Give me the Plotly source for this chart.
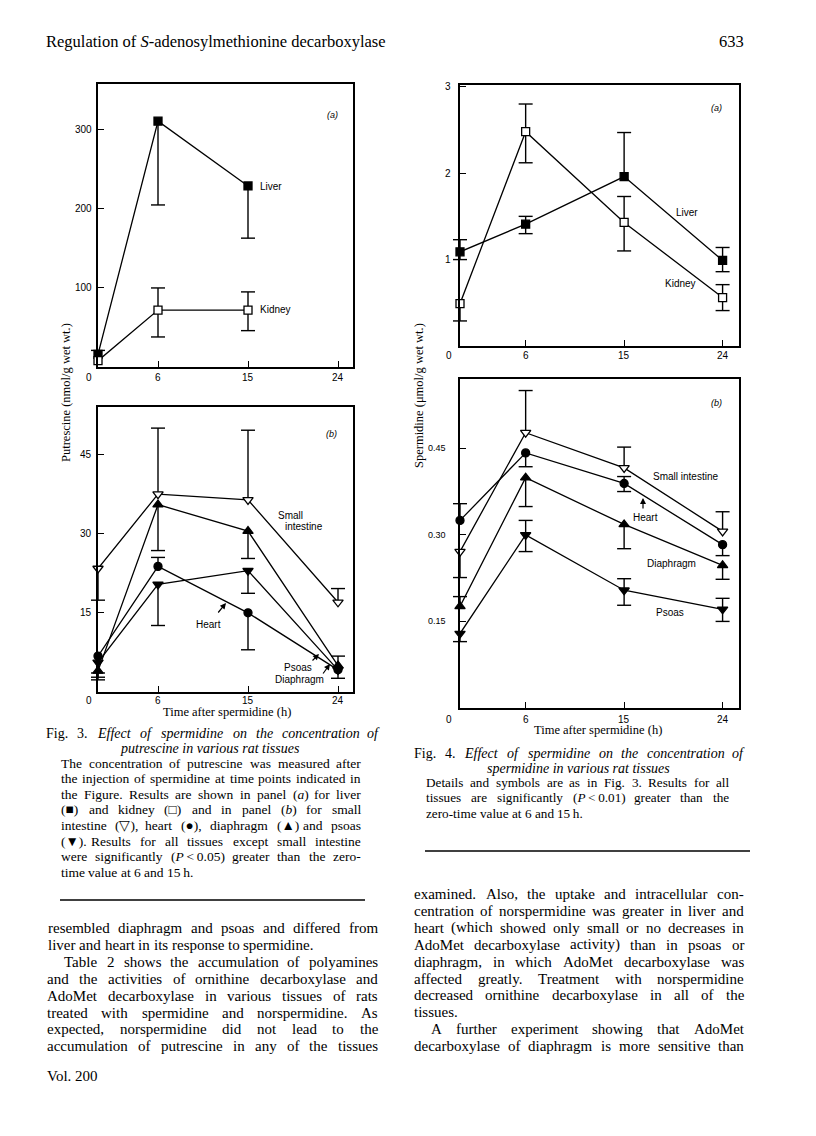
import re
import plotly.graph_objects as go

# page is rendered with an 8px body margin; figure sized to fit inside it
OFF = 8
W, H = 800, 1120

# ---------------- data ----------------
hours = [0, 6, 15, 24]
hours_3a = [0, 6, 15]

# Fig 3(a) putrescine, nmol/g
put_liver = [16, 311, 229]
put_liver_up = [5, 0, 0]
put_liver_dn = [0, 106, 66]
put_kidney = [8, 72, 72]
put_kidney_up = [0, 28, 23]
put_kidney_dn = [0, 34, 26]

# Fig 3(b)
put_si = [23.4, 37.5, 36.4, 17.0]
put_si_up = [0, 12.5, 13.2, 2.6]
put_si_dn = [6.0, 0, 0, 0]
put_heart = [6.8, 23.8, 15.0, 4.2]
put_heart_up = [0, 1.7, 0, 0]
put_heart_dn = [3.2, 0, 7.0, 0]
put_dia = [4.0, 35.5, 30.5, 5.0]
put_dia_up = [0, 0, 0, 1.8]
put_dia_dn = [1.7, 8.7, 5.2, 0]
put_psoas = [5.6, 20.4, 23.0, 4.2]
put_psoas_up = [0, 0, 0, 0]
put_psoas_dn = [2.8, 7.8, 4.3, 1.6]

# Fig 4(a) spermidine, umol/g
spd_liver = [1.09, 1.41, 1.96, 0.99]
spd_liver_up = [0.14, 0.09, 0.51, 0.15]
spd_liver_dn = [0.09, 0.11, 0, 0.13]
spd_kidney = [0.49, 2.48, 1.43, 0.56]
spd_kidney_up = [0, 0.32, 0.30, 0.15]
spd_kidney_dn = [0.20, 0.36, 0.33, 0.15]

# Fig 4(b)
spd_si = [0.271, 0.477, 0.416, 0.306]
spd_si_up = [0, 0.073, 0.036, 0.034]
spd_si_dn = [0.045, 0, 0, 0]
spd_heart = [0.325, 0.442, 0.389, 0.283]
spd_heart_up = [0.029, 0, 0.012, 0]
spd_heart_dn = [0, 0.024, 0.014, 0.019]
spd_dia = [0.176, 0.399, 0.318, 0.247]
spd_dia_up = [0.017, 0, 0, 0]
spd_dia_dn = [0, 0.050, 0.042, 0.024]
spd_psoas = [0.129, 0.300, 0.204, 0.171]
spd_psoas_up = [0, 0.025, 0.020, 0.019]
spd_psoas_dn = [0.014, 0.029, 0.026, 0.021]

x_ticks = [6, 15, 24]
x_ticktext = ["6", "15", "24"]
y_ticks_3a = [100, 200, 300]
y_ticktext_3a = ["100", "200", "300"]
y_ticks_3b = [15, 30, 45]
y_ticktext_3b = ["15", "30", "45"]
y_ticks_4a = [1, 2, 3]
y_ticktext_4a = ["1", "2", "3"]
y_ticks_4b = [0.15, 0.30, 0.45]
y_ticktext_4b = ["0.15", "0.30", "0.45"]

# ---------------- helpers ----------------
def px(x):
    return (x - OFF) / W

def py(y):
    return 1 - (y - OFF) / H

SANS = "Liberation Sans, Arial, sans-serif"
SERIF = "Liberation Serif, Times New Roman, serif"

fig = go.Figure()


def add_series(xs, ys, up, dn, sym, fill, xa, ya, size=8):
    cx, cy = [], []
    for x, y, u, d in zip(xs, ys, up, dn):
        if u > 0:
            cx.append(x); cy.append(y + u)
        if d > 0:
            cx.append(x); cy.append(y - d)
    if cx:
        fig.add_trace(go.Scatter(
            x=cx, y=cy, mode="markers", xaxis=xa, yaxis=ya,
            marker=dict(symbol="line-ew", size=10, line=dict(color="black", width=1.4)),
            cliponaxis=False, showlegend=False, hoverinfo="skip"))
    fig.add_trace(go.Scatter(
        x=xs, y=ys, mode="lines+markers", xaxis=xa, yaxis=ya,
        line=dict(color="black", width=1.3),
        marker=dict(symbol=sym, size=size, color=fill, line=dict(color="black", width=1.3)),
        error_y=dict(type="data", symmetric=False, array=up, arrayminus=dn,
                     color="black", thickness=1.4, width=0),
        cliponaxis=False, showlegend=False))


add_series(hours_3a, put_liver, put_liver_up, put_liver_dn, "square", "black", "x", "y")
add_series(hours_3a, put_kidney, put_kidney_up, put_kidney_dn, "square", "white", "x", "y")

add_series(hours, put_si, put_si_up, put_si_dn, "triangle-down", "white", "x2", "y2", 9)
add_series(hours, put_dia, put_dia_up, put_dia_dn, "triangle-up", "black", "x2", "y2", 9)
add_series(hours, put_psoas, put_psoas_up, put_psoas_dn, "triangle-down", "black", "x2", "y2", 9)
add_series(hours, put_heart, put_heart_up, put_heart_dn, "circle", "black", "x2", "y2")

add_series(hours, spd_liver, spd_liver_up, spd_liver_dn, "square", "black", "x3", "y3")
add_series(hours, spd_kidney, spd_kidney_up, spd_kidney_dn, "square", "white", "x3", "y3")

add_series(hours, spd_si, spd_si_up, spd_si_dn, "triangle-down", "white", "x4", "y4", 9)
add_series(hours, spd_heart, spd_heart_up, spd_heart_dn, "circle", "black", "x4", "y4")
add_series(hours, spd_dia, spd_dia_up, spd_dia_dn, "triangle-up", "black", "x4", "y4", 9)
add_series(hours, spd_psoas, spd_psoas_up, spd_psoas_dn, "triangle-down", "black", "x4", "y4", 9)


def xax(x0, x1, anchor):
    return dict(domain=[px(x0), px(x1)], range=[0, 25.5], anchor=anchor,
                tickmode="array", tickvals=x_ticks, ticks="inside", ticklen=6,
                tickwidth=1.3, tickcolor="black", showline=True, mirror=True,
                linecolor="black", linewidth=1.5, showgrid=False, zeroline=False,
                showticklabels=False, fixedrange=True)


def yax(y0, y1, anchor, rng, tv):
    return dict(domain=[py(y1), py(y0)], range=rng, anchor=anchor,
                tickmode="array", tickvals=tv, ticks="inside", ticklen=6,
                tickwidth=1.3, tickcolor="black", showline=True, mirror=True,
                linecolor="black", linewidth=1.5, showgrid=False, zeroline=False,
                showticklabels=False, fixedrange=True)


fig.update_layout(
    width=W, height=H, margin=dict(l=0, r=0, t=0, b=0),
    paper_bgcolor="white", plot_bgcolor="white", showlegend=False,
    xaxis=xax(98, 353, "y"), yaxis=yax(84, 367, "x", [0, 358], y_ticks_3a),
    xaxis2=xax(98, 353, "y2"), yaxis2=yax(407, 692, "x2", [0, 54], y_ticks_3b),
    xaxis3=xax(460, 739, "y3"), yaxis3=yax(85, 346, "x3", [0, 3.02], y_ticks_4a),
    xaxis4=xax(460, 739, "y4"), yaxis4=yax(379, 708, "x4", [0, 0.57], y_ticks_4b),
)

ann = []


def txt(x, y, s, size=10, family=SANS, xanchor="left", angle=0):
    ann.append(dict(x=px(x), y=py(y), xref="paper", yref="paper", text=s,
                    showarrow=False, xanchor=xanchor, yanchor="middle", borderpad=0,
                    textangle=angle, font=dict(family=family, size=size, color="black")))


def arrow(x0, y0, x1, y1):
    ann.append(dict(x=px(x1), y=py(y1), xref="paper", yref="paper", text="",
                    showarrow=True, ax=x0 - x1, ay=y0 - y1, arrowhead=2, arrowsize=1,
                    arrowwidth=1.2, arrowcolor="black"))


def xlabels(xref, ypix, size=10):
    for v, t in zip(x_ticks, x_ticktext):
        ann.append(dict(x=v, y=py(ypix), xref=xref, yref="paper", text=t,
                        showarrow=False, xanchor="center", yanchor="middle",
                        borderpad=0, font=dict(family=SANS, size=size, color="black")))


def ylabels(yref, xpix, vals, texts, size=10):
    for v, t in zip(vals, texts):
        ann.append(dict(x=px(xpix), y=v, xref="paper", yref=yref, text=t,
                        showarrow=False, xanchor="right", yanchor="middle",
                        borderpad=0, font=dict(family=SANS, size=size, color="black")))


xlabels("x", 377)
xlabels("x2", 700)
xlabels("x3", 355)
xlabels("x4", 719)
ylabels("y", 93, y_ticks_3a, y_ticktext_3a)
ylabels("y2", 93, y_ticks_3b, y_ticktext_3b)
ylabels("y3", 452, y_ticks_4a, y_ticktext_4a)
ylabels("y4", 447, y_ticks_4b, y_ticktext_4b, 9)

# Times-compatible advance widths (per 1000 em)
TW = {" ": 250, "!": 333, "(": 333, ")": 333, ",": 250, "-": 333, ".": 250, "/": 278,
      ":": 278, ";": 278, "<": 564, ">": 564, "?": 444, "\u2009": 167,
      "A": 722, "B": 667, "C": 667, "D": 722, "E": 611, "F": 556, "G": 722, "H": 722,
      "I": 333, "J": 389, "K": 722, "L": 611, "M": 889, "N": 722, "O": 722, "P": 556,
      "Q": 722, "R": 667, "S": 556, "T": 611, "U": 722, "V": 722, "W": 944, "X": 722,
      "Y": 722, "Z": 611,
      "a": 444, "b": 500, "c": 444, "d": 500, "e": 444, "f": 333, "g": 500, "h": 500,
      "i": 278, "j": 278, "k": 500, "l": 278, "m": 778, "n": 500, "o": 500, "p": 500,
      "q": 500, "r": 333, "s": 389, "t": 278, "u": 500, "v": 500, "w": 722, "x": 500,
      "y": 500, "z": 444}


def width(s, size):
    plain = re.sub(r"<[^<>]*>", "", s)
    tot = 0
    for ch in plain:
        if ch.isdigit():
            tot += 500
        else:
            tot += TW.get(ch, 650)
    return tot * size / 1000.0


def split_words(s):
    out = []
    ital = False
    for raw in s.split(" "):
        start = ital
        o, c = raw.rfind("<i>"), raw.rfind("</i>")
        if o > c:
            ital = True
        elif c > o:
            ital = False
        w = raw
        if start and not raw.startswith("<i>"):
            w = "<i>" + w
        if ital and not raw.endswith("</i>"):
            w = w + "</i>"
        out.append(w)
    return out


def jline(x0, x1, y, s, size, justify=True):
    words = split_words(s)
    ws = [width(w, size) for w in words]
    if justify and len(words) > 1:
        gap = (x1 - x0 - sum(ws)) / (len(words) - 1)
    else:
        gap = 0.25 * size
    x = x0
    for w, wd in zip(words, ws):
        txt(x, y, w, size, SERIF)
        x += wd + gap


# corner zeros
txt(89, 377, "0", xanchor="center")
txt(89, 700, "0", xanchor="center")
txt(449, 355, "0", xanchor="center")
txt(449, 719, "0", xanchor="center")

# Fig 3 labels
txt(332, 115, "<i>(a)</i>", 9, xanchor="center")
txt(259, 186, "Liver", 10)
txt(259, 310, "Kidney", 10)
txt(331, 434, "<i>(b)</i>", 9, xanchor="center")
txt(277, 515, "Small", 10)
txt(284, 526, "intestine", 10)
txt(209, 624, "Heart", 10, xanchor="center")
txt(298, 667, "Psoas", 10, xanchor="center")
txt(299, 679, "Diaphragm", 10, xanchor="center")
arrow(217, 614, 226, 603)
arrow(311, 662, 319, 654)
arrow(322, 675, 330, 664)

# Fig 4 labels
txt(716, 108, "<i>(a)</i>", 9, xanchor="center")
txt(675, 212, "Liver", 10)
txt(664, 283, "Kidney", 10)
txt(716, 403, "<i>(b)</i>", 9, xanchor="center")
txt(652, 477, "Small intestine", 10)
txt(632, 518, "Heart", 10)
txt(646, 563, "Diaphragm", 10)
txt(655, 612, "Psoas", 10)
arrow(643, 510, 643, 498)

# axis titles
txt(66, 392, "Putrescine (nmol/g wet wt.)", 12.5, SERIF, "center", -90)
txt(227, 712, "Time after spermidine (h)", 12.5, SERIF, "center")
txt(419, 396, "Spermidine (\u03bcmol/g wet wt.)", 12.5, SERIF, "center", -90)
txt(598, 730, "Time after spermidine (h)", 12.5, SERIF, "center")

# page header / footer
txt(45, 41, "Regulation of <i>S</i>-adenosylmethionine decarboxylase", 16.5, SERIF)
txt(731, 41, "633", 16.5, SERIF, "center")
txt(46, 1076, "Vol. 200", 15, SERIF)

# Fig 3 caption
jline(45, 378, 733, "Fig. 3. <i>Effect of spermidine on the concentration of</i>", 14)
txt(210, 748, "<i>putrescine in various rat tissues</i>", 14, SERIF, "center")
cap3 = [
    "The concentration of putrescine was measured after",
    "the injection of spermidine at time points indicated in",
    "the Figure. Results are shown in panel (<i>a</i>) for liver",
    "(\u25a0) and kidney (\u25a1) and in panel (<i>b</i>) for small",
    "intestine (\u25bd), heart (\u25cf), diaphragm (\u25b2) and psoas",
    "(\u25bc). Results for all tissues except small intestine",
    "were significantly (<i>P</i>\u2009<\u20090.05) greater than the zero-",
    "time value at 6 and 15\u2009h.",
]
for i, s in enumerate(cap3):
    jline(60, 360, 763 + i * 15.6, s, 13.5, justify=(i < len(cap3) - 1))

# Fig 4 caption
jline(413, 743, 753, "Fig. 4. <i>Effect of spermidine on the concentration of</i>", 14)
txt(578, 768, "<i>spermidine in various rat tissues</i>", 14, SERIF, "center")
cap4 = [
    "Details and symbols are as in Fig. 3. Results for all",
    "tissues are significantly (<i>P</i>\u2009<\u20090.01) greater than the",
    "zero-time value at 6 and 15\u2009h.",
]
for i, s in enumerate(cap4):
    jline(425, 728, 782 + i * 15.6, s, 13.2, justify=(i < len(cap4) - 1))

# body text, left column
left = [
    (47, "resembled diaphragm and psoas and differed from", True),
    (47, "liver and heart in its response to spermidine.", False),
    (63, "Table 2 shows the accumulation of polyamines", True),
    (46, "and the activities of ornithine decarboxylase and", True),
    (46, "AdoMet decarboxylase in various tissues of rats", True),
    (46, "treated with spermidine and norspermidine. As", True),
    (46, "expected, norspermidine did not lead to the", True),
    (46, "accumulation of putrescine in any of the tissues", True),
]
for i, (x, s, j) in enumerate(left):
    jline(x, 377, 928 + i * 16.9, s, 15, j)

# body text, right column
right = [
    (413, "examined. Also, the uptake and intracellular con-", True),
    (413, "centration of norspermidine was greater in liver and", True),
    (413, "heart (which showed only small or no decreases in", True),
    (413, "AdoMet decarboxylase activity) than in psoas or", True),
    (413, "diaphragm, in which AdoMet decarboxylase was", True),
    (413, "affected greatly. Treatment with norspermidine", True),
    (413, "decreased ornithine decarboxylase in all of the", True),
    (413, "tissues.", False),
    (430, "A further experiment showing that AdoMet", True),
    (413, "decarboxylase of diaphragm is more sensitive than", True),
]
for i, (x, s, j) in enumerate(right):
    jline(x, 743, 894 + i * 16.9, s, 15, j)

fig.update_layout(annotations=ann)

# separator rules
fig.add_shape(type="line", xref="paper", yref="paper", x0=px(60), x1=px(365),
              y0=py(900), y1=py(900), line=dict(color="black", width=1.5))
fig.add_shape(type="line", xref="paper", yref="paper", x0=px(425), x1=px(750),
              y0=py(851), y1=py(851), line=dict(color="black", width=1.5))

fig.write_html("out.html")
